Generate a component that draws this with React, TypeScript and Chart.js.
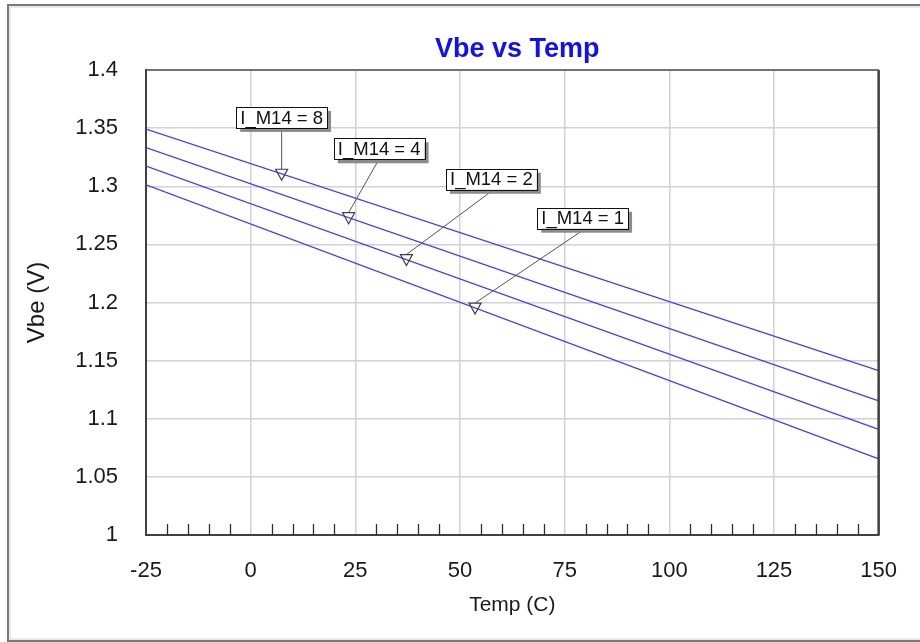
import React, { useEffect, useRef } from 'react';
import { Chart, registerables } from 'chart.js';

Chart.register(...registerables);

// ---- data ----
const temps = [-25, 150];
const vbeI8 = [1.3492, 1.1413];
const vbeI4 = [1.3332, 1.1153];
const vbeI2 = [1.3174, 1.0909];
const vbeI1 = [1.3013, 1.0654];
const seriesNames = ['I_M14 = 8', 'I_M14 = 4', 'I_M14 = 2', 'I_M14 = 1'];

// marker (triangle) positions on each curve
const markerTemps = [7.4, 23.4, 37.2, 53.6];
const markerVbe = [1.3099, 1.2725, 1.2365, 1.1948];
// label box centers
const labelTemps = [7.4, 30.7, 57.5, 79.3];
const labelVbe = [1.3592, 1.3322, 1.306, 1.2725];

const xTickLabels = ['-25', '0', '25', '50', '75', '100', '125', '150'];
const yTickLabels = ['1', '1.05', '1.1', '1.15', '1.2', '1.25', '1.3', '1.35', '1.4'];
const minorTemps = [-20, -15, -10, -5, 5, 10, 15, 20, 30, 35, 40, 45, 55, 60, 65, 70, 80, 85, 90, 95, 105, 110, 115, 120, 130, 135, 140, 145];

const chartTitle = 'Vbe vs Temp';
const xTitle = 'Temp (C)';
const yTitle = 'Vbe (V)';

const FONT = '"Liberation Sans", Arial, sans-serif';
const LINE_COLOR = 'rgb(64,64,236)';

const decorPlugin = {
  id: 'decor',
  beforeDraw(chart: any) {
    const { ctx, width, height } = chart;
    ctx.save();
    ctx.fillStyle = '#ffffff';
    ctx.fillRect(0, 0, width, height);
    // outer frame
    ctx.strokeStyle = '#7a7a7a';
    ctx.lineWidth = 2;
    ctx.strokeRect(8, 5, width + 4, height - 6);
    ctx.strokeStyle = '#d4d4d4';
    ctx.lineWidth = 1;
    ctx.strokeRect(10, 7, width, height - 10);
    ctx.restore();
  },
  afterDatasetsDraw(chart: any) {
    const { ctx, chartArea } = chart;
    const xs = chart.scales.x;
    const ys = chart.scales.y;
    ctx.save();
    // plot border top & right
    ctx.strokeStyle = '#505050';
    ctx.lineWidth = 1.5;
    ctx.beginPath();
    ctx.moveTo(chartArea.left, chartArea.top);
    ctx.lineTo(chartArea.right, chartArea.top);
    ctx.stroke();
    ctx.strokeStyle = '#404040';
    ctx.lineWidth = 2.5;
    ctx.beginPath();
    ctx.moveTo(chartArea.right, chartArea.top);
    ctx.lineTo(chartArea.right, chartArea.bottom);
    ctx.stroke();

    // minor ticks on the bottom axis (inside)
    ctx.strokeStyle = '#303030';
    ctx.lineWidth = 1.3;
    ctx.beginPath();
    minorTemps.forEach((t) => {
      const px = Math.round(xs.getPixelForValue(t)) + 0.5;
      ctx.moveTo(px, chartArea.bottom);
      ctx.lineTo(px, chartArea.bottom - 11);
    });
    ctx.stroke();

    // annotations
    ctx.font = `18.5px ${FONT}`;
    seriesNames.forEach((name, i) => {
      const mx = xs.getPixelForValue(markerTemps[i]);
      const my = ys.getPixelForValue(markerVbe[i]);
      const bx = xs.getPixelForValue(labelTemps[i]);
      const by = ys.getPixelForValue(labelVbe[i]);
      const tw = ctx.measureText(name).width;
      const bw = tw + 8;
      const bh = 21;
      const left = bx - bw / 2;
      const top = by - bh / 2;
      // leader
      ctx.strokeStyle = '#555555';
      ctx.lineWidth = 1;
      ctx.beginPath();
      ctx.moveTo(bx - (i === 0 ? 0 : 2), top + bh + 3);
      ctx.lineTo(mx, my - 5.5);
      ctx.stroke();
      // triangle marker
      ctx.strokeStyle = '#404040';
      ctx.lineWidth = 1.2;
      ctx.beginPath();
      ctx.moveTo(mx - 6, my - 5.5);
      ctx.lineTo(mx + 6, my - 5.5);
      ctx.lineTo(mx, my + 5.5);
      ctx.closePath();
      ctx.stroke();
      // box shadow
      ctx.fillStyle = '#8c8c8c';
      ctx.fillRect(left + 4, top + 4, bw, bh);
      ctx.fillStyle = '#ffffff';
      ctx.fillRect(left, top, bw, bh);
      ctx.strokeStyle = '#111111';
      ctx.lineWidth = 1;
      ctx.strokeRect(Math.round(left) + 0.5, Math.round(top) + 0.5, Math.round(bw), Math.round(bh));
      ctx.fillStyle = '#111111';
      ctx.textAlign = 'center';
      ctx.textBaseline = 'middle';
      ctx.fillText(name, bx, by + 1);
    });

    // title
    ctx.font = `bold 27px ${FONT}`;
    ctx.fillStyle = '#1010f0';
    ctx.textAlign = 'center';
    ctx.textBaseline = 'alphabetic';
    ctx.fillText(chartTitle, (chartArea.left + chartArea.right) / 2 + 5, chartArea.top - 13);
    ctx.restore();
  },
};

export default function App() {
  const canvasRef = useRef<HTMLCanvasElement | null>(null);

  useEffect(() => {
    if (!canvasRef.current) return;
    const mk = (label: string, vals: number[]) => ({
      label,
      data: temps.map((t, i) => ({ x: t, y: vals[i] })),
      borderColor: LINE_COLOR,
      backgroundColor: LINE_COLOR,
      borderWidth: 1.3,
      pointRadius: 0,
      fill: false,
      tension: 0,
    });
    const chart = new Chart(canvasRef.current, {
      type: 'line',
      data: {
        datasets: [
          mk(seriesNames[0], vbeI8),
          mk(seriesNames[1], vbeI4),
          mk(seriesNames[2], vbeI2),
          mk(seriesNames[3], vbeI1),
        ],
      },
      options: {
        animation: false,
        responsive: false,
        events: [],
        layout: { padding: { left: 8, top: 70, right: 40, bottom: 0 } },
        plugins: {
          legend: { display: false },
          title: { display: false },
          tooltip: { enabled: false },
        },
        scales: {
          x: {
            type: 'linear',
            min: -25,
            max: 150,
            afterFit: (s: any) => {
              s.height = 107;
            },
            ticks: {
              stepSize: 25,
              padding: 23,
              color: '#1a1a1a',
              font: { family: FONT, size: 22 },
              maxRotation: 0,
              callback: (v: any) => {
                const l = xTickLabels.find((t) => Math.abs(parseFloat(t) - Number(v)) < 1e-6);
                return l ?? '';
              },
            },
            grid: { color: '#d2d2d2', lineWidth: 1.5, drawTicks: false },
            border: { display: true, color: '#404040', width: 2 },
            title: {
              display: true,
              text: xTitle,
              color: '#1a1a1a',
              font: { family: FONT, size: 21 },
              padding: { top: 0, bottom: 24 },
            },
          },
          y: {
            type: 'linear',
            min: 1,
            max: 1.4,
            afterFit: (s: any) => {
              s.width = 138;
            },
            ticks: {
              stepSize: 0.05,
              padding: 28,
              color: '#1a1a1a',
              font: { family: FONT, size: 22 },
              callback: (v: any) => {
                const l = yTickLabels.find((t) => Math.abs(parseFloat(t) - Number(v)) < 1e-6);
                return l ?? '';
              },
            },
            grid: { color: '#d2d2d2', lineWidth: 1.5, drawTicks: false },
            border: { display: true, color: '#404040', width: 2 },
            title: {
              display: true,
              text: yTitle,
              color: '#1a1a1a',
              font: { family: FONT, size: 24 },
              padding: { top: 15, bottom: 0 },
            },
          },
        },
      },
      plugins: [decorPlugin],
    });
    return () => chart.destroy();
  }, []);

  return (
    <div style={{ position: 'fixed', left: 0, top: 0, width: 920, height: 642, background: '#fff' }}>
      <canvas ref={canvasRef} width={920} height={642} style={{ display: 'block', width: 920, height: 642 }} />
    </div>
  );
}
